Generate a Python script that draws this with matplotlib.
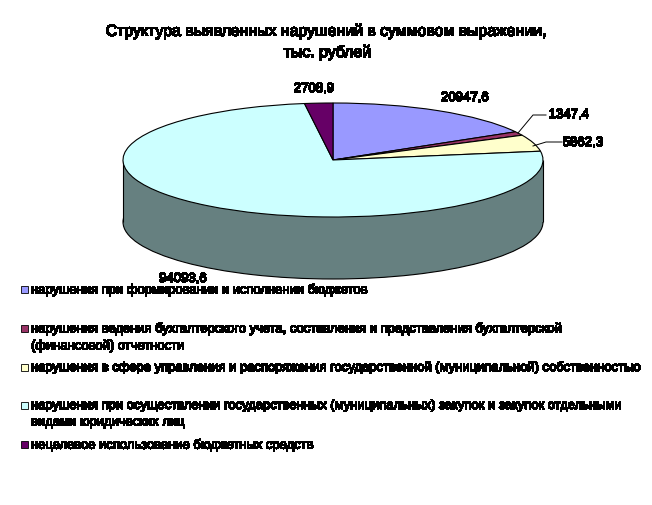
import matplotlib
matplotlib.use("Agg")
import matplotlib.pyplot as plt
import matplotlib.patheffects as pe
from matplotlib.patches import Rectangle

plt.rcParams['font.family'] = ['Liberation Sans', 'DejaVu Sans']
plt.rcParams['text.antialiased'] = False

title_lines = ["Структура выявленных нарушений в суммовом выражении,", "тыс. рублей"]
values = [20947.6, 1347.4, 5862.3, 94093.6, 2708.9]
value_labels = ["20947,6", "1347,4", "5862,3", "94093,6", "2708,9"]
colors = ["#9999FF", "#993366", "#FFFFCC", "#CCFFFF", "#660066"]
side_color = "#668080"
legend_labels = [
    "нарушения при формировании и исполнении бюджетов",
    "нарушения ведения бухгалтерского учета, составления и представления бухгалтерской\n(финансовой) отчетности",
    "нарушения в сфере управления и распоряжения государственной (муниципальной) собственностью",
    "нарушения при осуществлении государственных (муниципальных) закупок и закупок отдельными\nвидами юридических лиц",
    "нецелевое использование бюджетных средств",
]

W, H = 652, 505
fig = plt.figure(figsize=(W / 100, H / 100), dpi=100, facecolor="white")

# pie geometry in pixels
cx, cy, rx, ry, depth_px = 333, 160, 210, 57, 62
pad = 4
left, right = cx - rx - pad, cx + rx + pad
top, bottom = cy - ry - pad, cy + ry + depth_px + pad
ax = fig.add_axes([left / W, 1 - bottom / H, (right - left) / W, (bottom - top) / H])
depth = depth_px / ry
edge = dict(edgecolor="black", linewidth=0.8)

ax.pie([sum(values)], colors=[side_color], center=(0, -depth), startangle=90,
       wedgeprops=edge)
ax.add_patch(Rectangle((-1, -depth), 2, depth, facecolor=side_color, edgecolor="none", zorder=3))
ax.vlines([-1, 1], -depth, 0, color="black", linewidth=0.8, zorder=4)
wedges, _ = ax.pie(values, colors=colors, startangle=90, counterclock=False, wedgeprops=edge)
for w in wedges:
    w.set_zorder(5)
ax.set_aspect("auto")
ax.set_xlim(-1 - pad / rx, 1 + pad / rx)
ax.set_ylim(-depth - 1 - pad / ry, 1 + pad / ry)
ax.axis("off")

# overlay in pixel coordinates
ov = fig.add_axes([0, 0, 1, 1], zorder=10)
ov.set_xlim(0, W)
ov.set_ylim(H, 0)
ov.axis("off")
ov.patch.set_alpha(0)

heavy = [pe.withStroke(linewidth=0.35, foreground="black")]

for line, y in zip(title_lines, (31, 52)):
    ov.text(327.5, y, line, ha="center", va="center", fontsize=11.4, color="black",
            path_effects=heavy)

label_pos = [(465, 98), (569, 115), (583, 143), (183, 279), (314, 89)]
for txt, (x, y) in zip(value_labels, label_pos):
    ov.text(x, y, txt, ha="center", va="center", fontsize=9.5, color="black",
            path_effects=heavy)
ov.plot([518, 533, 546], [133, 115, 115], color="black", lw=0.7)
ov.plot([533, 546, 562], [146, 142, 142], color="black", lw=0.7)

for i, (lab, col) in enumerate(zip(legend_labels, colors)):
    y = 289.5 + i * 38.8
    ov.add_patch(Rectangle((21, y - 3.5), 7, 7, facecolor=col, edgecolor="black", linewidth=0.6))
    ov.text(31, y - 6, lab, ha="left", va="top", fontsize=9.35, color="black",
            linespacing=1.5, path_effects=heavy)

fig.savefig("out.png", dpi=100)
